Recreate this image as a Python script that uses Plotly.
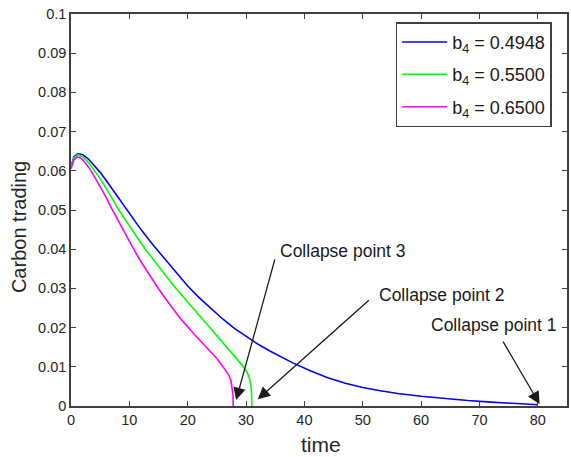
import plotly.graph_objects as go

# ---- data ----
t_blue = [0, 0.5, 1.2, 2, 3, 4, 5, 6, 8, 10, 12, 14, 16, 18, 20, 22, 24, 26, 28, 30, 32, 34, 36, 38,
          41, 44, 47, 50, 53, 56, 60, 64, 68, 72, 76, 80]
v_blue = [0.0610, 0.0636, 0.0644, 0.0641, 0.0630, 0.0614, 0.0596, 0.0576, 0.0534, 0.0490, 0.0450,
          0.0412, 0.0376, 0.0341, 0.0306, 0.0276, 0.0248, 0.0222, 0.0198, 0.0177, 0.0158, 0.0141,
          0.0125, 0.0110, 0.0090, 0.0072, 0.0058, 0.0047, 0.0039, 0.0032, 0.0025, 0.0019, 0.0014,
          0.0010, 0.0007, 0.0003]

t_green = [0, 0.5, 1.2, 2, 3, 4, 5, 6, 7, 8, 9, 10, 11, 12, 13, 14, 15, 16, 17, 18, 19, 20, 21, 22,
           23, 24, 25, 26, 27, 28, 29, 29.7, 30.2, 30.6, 30.85, 30.95, 31.0]
v_green = [0.0608, 0.0633, 0.0641, 0.0636, 0.0621, 0.0602, 0.0580, 0.0556, 0.0530, 0.0505, 0.0482,
           0.0459, 0.0437, 0.0416, 0.0395, 0.0375, 0.0355, 0.0336, 0.0318, 0.0300, 0.0282, 0.0265,
           0.0248, 0.0231, 0.0214, 0.0196, 0.0178, 0.0161, 0.0145, 0.0129, 0.0110, 0.0097, 0.0085,
           0.0070, 0.0050, 0.0030, 0.0]

t_mag = [0, 0.5, 1.0, 1.5, 2, 3, 4, 5, 6, 7, 8, 9, 10, 11, 12, 13, 14, 15, 16, 17, 18, 19, 20, 21,
         22, 23, 24, 25, 25.8, 26.5, 27.0, 27.4, 27.6, 27.75, 27.8]
v_mag = [0.0605, 0.0628, 0.0635, 0.0634, 0.0628, 0.0610, 0.0586, 0.0560, 0.0533, 0.0503, 0.0475,
         0.0446, 0.0419, 0.0393, 0.0368, 0.0344, 0.0321, 0.0299, 0.0278, 0.0257, 0.0238, 0.0219,
         0.0201, 0.0185, 0.0169, 0.0153, 0.0138, 0.0121, 0.0105, 0.0092, 0.0080, 0.0065, 0.0050,
         0.0030, 0.0]

series_names = ["b<sub>4</sub> = 0.4948", "b<sub>4</sub> = 0.5500", "b<sub>4</sub> = 0.6500"]
series_colors = ["#0000ff", "#00ff00", "#ff00ff"]

collapse_labels = ["Collapse point 1", "Collapse point 2", "Collapse point 3"]
arrow_tips = [(80.3, 0.0005), (32.0, 0.0017), (28.3, 0.0015)]
arrow_tails = [(73.9, 0.0168), (51.3, 0.0273), (35.0, 0.0378)]
label_pos = [(61.3, 0.0207), (52.4, 0.0283), (35.5, 0.0395)]

FONT = "Liberation Sans, Arial, sans-serif"
AXC = "#404040"

fig = go.Figure()
for i, (tx, vy) in enumerate([(t_blue, v_blue), (t_green, v_green), (t_mag, v_mag)]):
    fig.add_trace(go.Scatter(x=tx, y=vy, mode="lines", name=series_names[i],
                             line=dict(color=series_colors[i], width=1.6),
                             legendgroup=f"g{i}"))

ann = []
for (tx, ty), (ax_, ay_) in zip(arrow_tips, arrow_tails):
    ann.append(dict(x=tx, y=ty, ax=ax_, ay=ay_, xref="x", yref="y", axref="x", ayref="y",
                    text="", showarrow=True, arrowhead=2, arrowsize=1.9, arrowwidth=1.3,
                    arrowcolor="#1a1a1a"))
for lab, (lx, ly) in zip(collapse_labels, label_pos):
    ann.append(dict(x=lx, y=ly, xref="x", yref="y", text=lab, showarrow=False,
                    xanchor="left", yanchor="middle", font=dict(family=FONT, size=17.5, color="#1a1a1a")))
ann.append(dict(x=-0.1044, y=0.457, xref="paper", yref="paper", text="Carbon trading", textangle=-90,
                showarrow=False, xanchor="center", yanchor="middle",
                font=dict(family=FONT, size=20, color="#262626")))
ann.append(dict(x=0.504, y=-0.099, xref="paper", yref="paper", text="time", showarrow=False,
                xanchor="center", yanchor="middle", font=dict(family=FONT, size=21, color="#262626")))

axis_common = dict(showgrid=False, zeroline=False, showline=True, linecolor=AXC, linewidth=1.5,
                   mirror="ticks", ticks="inside", ticklen=5, tickwidth=1.3, tickcolor=AXC,
                   tickfont=dict(family=FONT, size=14.5, color="#262626"))

fig.update_layout(
    width=571, height=457,
    margin=dict(l=71, r=2, t=14, b=51),
    paper_bgcolor="white", plot_bgcolor="white",
    xaxis=dict(range=[0, 85], dtick=10, tick0=0, **axis_common),
    yaxis=dict(range=[0, 0.1], dtick=0.01, tick0=0, **axis_common),
    showlegend=True,
    legend=dict(x=0.6546, y=0.979, xanchor="left", yanchor="top", bgcolor="white",
                bordercolor=AXC, borderwidth=1.5, tracegroupgap=6, itemwidth=45,
                font=dict(family=FONT, size=18, color="#1a1a1a")),
    annotations=ann,
)

fig.write_html("out.html")
